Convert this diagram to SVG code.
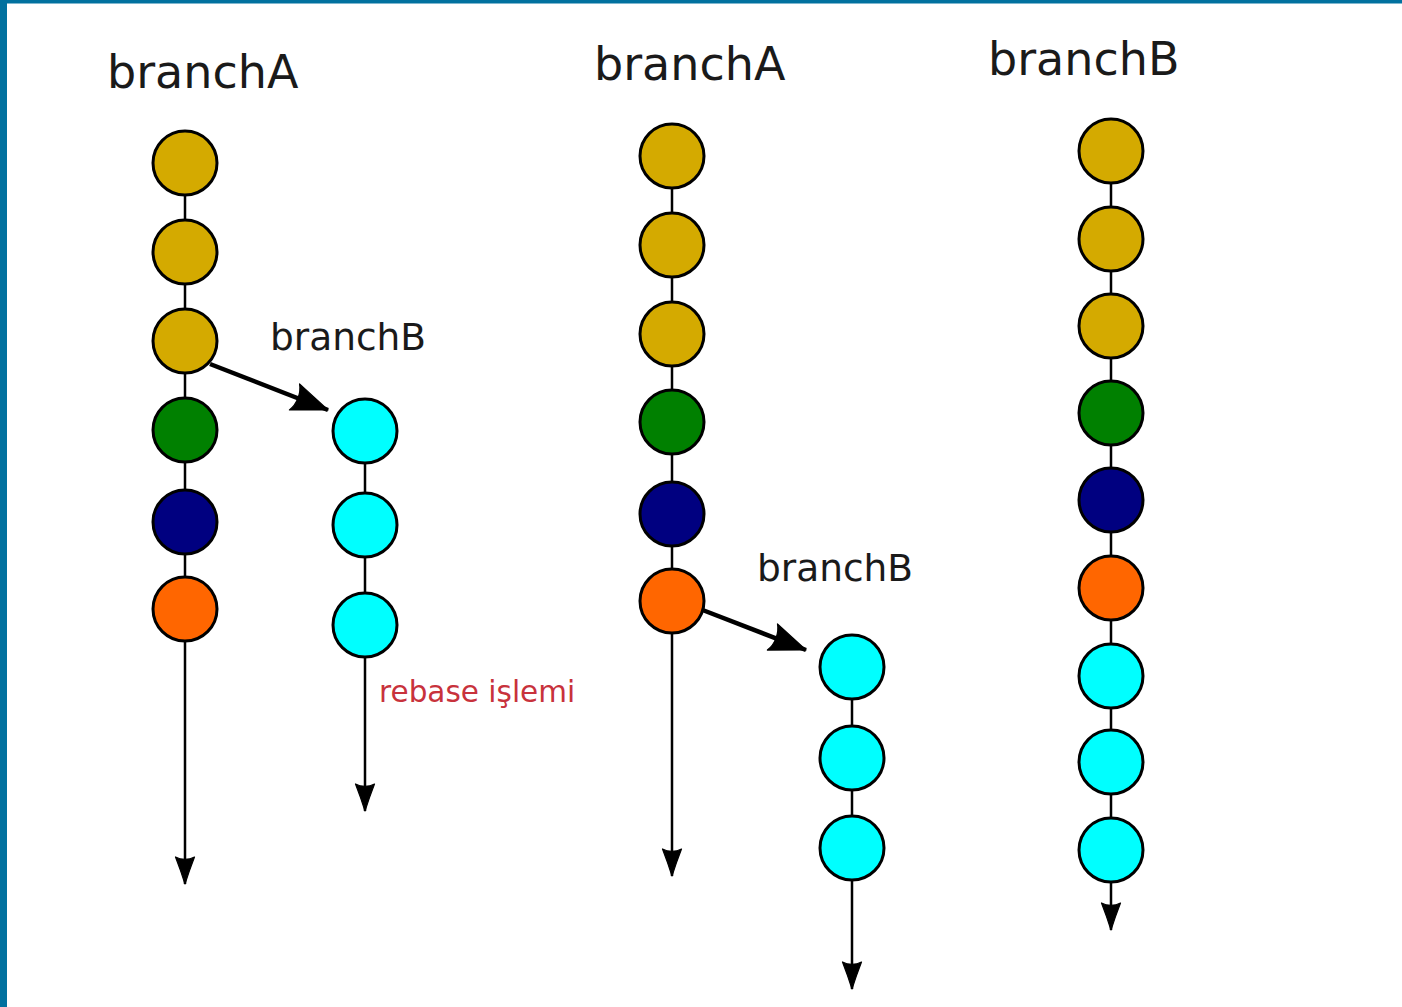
<svg xmlns="http://www.w3.org/2000/svg" width="1402" height="1007" viewBox="0 0 1402 1007">
  <style>
    .c { stroke: #000; stroke-width: 3; }
    .gold { fill: #d4aa00; }
    .green { fill: #008000; }
    .navy { fill: #000080; }
    .orange { fill: #ff6600; }
    .cyan { fill: #00ffff; }
    .edge { fill: none; stroke: #000; stroke-width: 2.5; }
    .thick { fill: none; stroke: #000; stroke-width: 4.5; }
    .lbl { font-family: "DejaVu Sans", "Liberation Sans", sans-serif; fill: #1a1a1a; }
    .big { font-size: 46px; }
    .mid { font-size: 37.5px; }
    .note { font-family: "DejaVu Sans", "Liberation Sans", sans-serif; font-size: 29.5px; fill: #c8323c; }
  </style>
  <defs>
    <marker id="tip" markerUnits="userSpaceOnUse" viewBox="-32 -12 34 24" refX="0" refY="0" markerWidth="34" markerHeight="24" orient="auto" overflow="visible">
      <path d="M0,0 C-8,-2.5 -18,-6 -27,-9.5 C-24,-4 -24,4 -27,9.5 C-18,6 -8,2.5 0,0 Z" fill="#000" stroke="#000" stroke-width="1.2" stroke-linejoin="round"/>
    </marker>
    <marker id="bigtip" markerUnits="userSpaceOnUse" viewBox="-42 -18 44 36" refX="0" refY="0" markerWidth="44" markerHeight="36" orient="auto" overflow="visible">
      <path d="M0,0 L-36,-14 C-31,-6 -31,6 -36,14 Z" fill="#000" stroke="#000" stroke-width="1.2" stroke-linejoin="round"/>
    </marker>
  </defs>

  <!-- frame -->
  <rect x="0" y="0" width="1402" height="1007" fill="#ffffff"/>
  <rect x="0" y="0" width="1402" height="3.5" fill="#01719f"/>
  <rect x="0" y="0" width="7" height="1007" fill="#01719f"/>

  <!-- connectors -->
  <g id="connectors">
    <line class="edge" x1="185" y1="163" x2="185" y2="884" marker-end="url(#tip)"/>
    <line class="edge" x1="365" y1="431" x2="365" y2="811" marker-end="url(#tip)"/>
    <line class="thick" x1="210" y1="364" x2="328" y2="410" marker-end="url(#bigtip)"/>
    <line class="edge" x1="672" y1="156" x2="672" y2="876" marker-end="url(#tip)"/>
    <line class="edge" x1="852" y1="667" x2="852" y2="989" marker-end="url(#tip)"/>
    <line class="thick" x1="700" y1="609" x2="806" y2="650" marker-end="url(#bigtip)"/>
    <line class="edge" x1="1111" y1="151" x2="1111" y2="930" marker-end="url(#tip)"/>
  </g>

  <!-- labels -->
  <g id="labels">
    <text class="lbl big" x="107" y="88">branchA</text>
    <text class="lbl mid" x="270" y="350">branchB</text>
    <text class="note" x="379" y="702">rebase işlemi</text>
    <text class="lbl big" x="594" y="80">branchA</text>
    <text class="lbl mid" x="757" y="581">branchB</text>
    <text class="lbl big" x="988" y="75">branchB</text>
  </g>

  <!-- before rebase: branchA -->
  <g id="a1"><circle class="c gold" cx="185" cy="163" r="32"/></g>
  <g id="a2"><circle class="c gold" cx="185" cy="252" r="32"/></g>
  <g id="a3"><circle class="c gold" cx="185" cy="341" r="32"/></g>
  <g id="a4"><circle class="c green" cx="185" cy="430" r="32"/></g>
  <g id="a5"><circle class="c navy" cx="185" cy="522" r="32"/></g>
  <g id="a6"><circle class="c orange" cx="185" cy="609" r="32"/></g>
  <!-- before rebase: branchB -->
  <g id="b1"><circle class="c cyan" cx="365" cy="431" r="32"/></g>
  <g id="b2"><circle class="c cyan" cx="365" cy="525" r="32"/></g>
  <g id="b3"><circle class="c cyan" cx="365" cy="625" r="32"/></g>

  <!-- after rebase: branchA -->
  <g id="c1"><circle class="c gold" cx="672" cy="156" r="32"/></g>
  <g id="c2"><circle class="c gold" cx="672" cy="245" r="32"/></g>
  <g id="c3"><circle class="c gold" cx="672" cy="334" r="32"/></g>
  <g id="c4"><circle class="c green" cx="672" cy="422" r="32"/></g>
  <g id="c5"><circle class="c navy" cx="672" cy="514" r="32"/></g>
  <g id="c6"><circle class="c orange" cx="672" cy="601" r="32"/></g>
  <!-- after rebase: branchB -->
  <g id="d1"><circle class="c cyan" cx="852" cy="667" r="32"/></g>
  <g id="d2"><circle class="c cyan" cx="852" cy="758" r="32"/></g>
  <g id="d3"><circle class="c cyan" cx="852" cy="848" r="32"/></g>

  <!-- linear history -->
  <g id="e1"><circle class="c gold" cx="1111" cy="151" r="32"/></g>
  <g id="e2"><circle class="c gold" cx="1111" cy="239" r="32"/></g>
  <g id="e3"><circle class="c gold" cx="1111" cy="326" r="32"/></g>
  <g id="e4"><circle class="c green" cx="1111" cy="413" r="32"/></g>
  <g id="e5"><circle class="c navy" cx="1111" cy="500" r="32"/></g>
  <g id="e6"><circle class="c orange" cx="1111" cy="588" r="32"/></g>
  <g id="e7"><circle class="c cyan" cx="1111" cy="676" r="32"/></g>
  <g id="e8"><circle class="c cyan" cx="1111" cy="762" r="32"/></g>
  <g id="e9"><circle class="c cyan" cx="1111" cy="850" r="32"/></g>
</svg>
